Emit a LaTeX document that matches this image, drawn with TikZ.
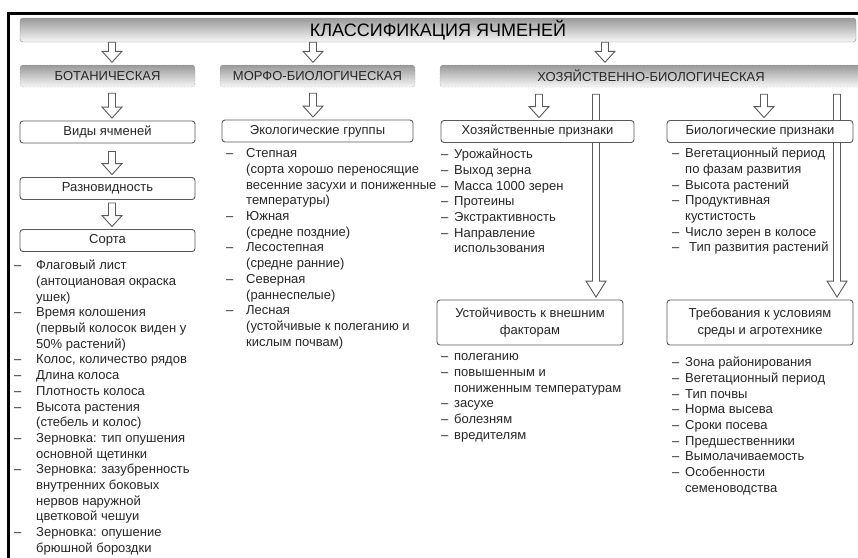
\documentclass[tikz,border=0pt]{standalone}
\usepackage{fontspec}
\setmainfont{Liberation Sans}
\usetikzlibrary{calc,backgrounds}

% hollow block arrow, drawn straight down at the x of the target
\newcommand{\harrow}[3][11pt]{%
  \draw[harr] let \p1=(#2), \p2=(#3) in
    (\x2-3.5pt,\y1) -- (\x2-3.5pt,\y2+2.5pt+#1) -- (\x2-10pt,\y2+2.5pt+#1)
    -- (\x2,\y2+2.5pt) -- (\x2+10pt,\y2+2.5pt+#1) -- (\x2+3.5pt,\y2+2.5pt+#1)
    -- (\x2+3.5pt,\y1) -- cycle;}
\newcommand{\itm}[2][13pt]{\rule{0pt}{12pt}\makebox[#1][l]{--}#2}
\newcommand{\cnt}[2][13pt]{\rule{0pt}{12pt}\hspace*{#1}#2}

\begin{document}
\begin{tikzpicture}[
  x=1pt, y=-1pt,
  font=\fontsize{13}{16.5}\selectfont, text=black!85,
  tbar/.style={draw=black!45, rounded corners=3pt, top color=black!40, bottom color=black!3,
    minimum height=24pt, inner sep=0pt, font=\fontsize{18}{20}\selectfont, text=black},
  bar/.style={draw=black!55, densely dotted, rounded corners=3pt, top color=black!40,
    bottom color=black!3, minimum height=22pt, inner sep=0pt},
  box/.style={draw=black!65, line width=0.9pt, rounded corners=3pt, fill=white,
    minimum height=22pt, inner sep=2pt, align=center},
  lst/.style={anchor=north west, inner sep=0pt, align=left,
    font=\fontsize{13}{15.7}\selectfont},
  harr/.style={draw=black!65, line width=0.9pt, fill=white}
]
\useasboundingbox (0,0) rectangle (858,557);
\draw[line width=3pt] (8.5,560) -- (8.5,13.5) -- (862,13.5);

\node[tbar, minimum width=836pt] (title) at (438,30) {КЛАССИФИКАЦИЯ ЯЧМЕНЕЙ};
\node[bar, minimum width=175pt] (bot) at (107.5,76) {БОТАНИЧЕСКАЯ};
\node[bar, minimum width=195pt] (morf) at (317.5,76) {МОРФО-БИОЛОГИЧЕСКАЯ};
\node[bar, minimum width=422pt] (hozbio) at (651,76) {ХОЗЯЙСТВЕННО-БИОЛОГИЧЕСКАЯ};

\node[box, minimum width=175pt] (vid) at (107.5,132) {Виды ячменей};
\node[box, minimum width=175pt] (raz) at (107.5,188.5) {Разновидность};
\node[box, minimum width=175pt] (sort) at (107.5,240.5) {Сорта};
\node[box, minimum width=191pt] (eco) at (317.5,131) {Экологические группы};
\node[box, minimum width=193pt] (hoz) at (537.5,131.5) {Хозяйственные признаки};
\node[box, minimum width=186pt] (bio) at (760,131.5) {Биологические признаки};
\node[box, minimum width=186pt, minimum height=45pt] (ust) at (530,322.5)
  {Устойчивость к внешним\\факторам};
\node[box, minimum width=186pt, minimum height=45pt] (treb) at (760,322.5)
  {Требования к условиям\\среды и агротехнике};

% lists
\node[lst] (sortlist) at (14,257.5) {%
  \itm[22pt]{Флаговый лист}\\
  \cnt[22pt]{(антоциановая окраска}\\
  \cnt[22pt]{ушек)}\\
  \itm[22pt]{Время колошения}\\
  \cnt[22pt]{(первый колосок виден у}\\
  \cnt[22pt]{50\% растений)}\\
  \itm[22pt]{Колос, количество рядов}\\
  \itm[22pt]{Длина колоса}\\
  \itm[22pt]{Плотность колоса}\\
  \itm[22pt]{Высота растения}\\
  \cnt[22pt]{(стебель и колос)}\\
  \itm[22pt]{Зерновка: тип опушения}\\
  \cnt[22pt]{основной щетинки}\\
  \itm[22pt]{Зерновка: зазубренность}\\
  \cnt[22pt]{внутренних боковых}\\
  \cnt[22pt]{нервов наружной}\\
  \cnt[22pt]{цветковой чешуи}\\
  \itm[22pt]{Зерновка: опушение}\\
  \cnt[22pt]{брюшной бороздки}};
\node[lst] (ecolist) at (226,145.5) {%
  \itm[20pt]{Степная}\\
  \cnt[20pt]{(сорта хорошо переносящие}\\
  \cnt[20pt]{весенние засухи и пониженные}\\
  \cnt[20pt]{температуры)}\\
  \itm[20pt]{Южная}\\
  \cnt[20pt]{(средне поздние)}\\
  \itm[20pt]{Лесостепная}\\
  \cnt[20pt]{(средне ранние)}\\
  \itm[20pt]{Северная}\\
  \cnt[20pt]{(раннеспелые)}\\
  \itm[20pt]{Лесная}\\
  \cnt[20pt]{(устойчивые к полеганию и}\\
  \cnt[20pt]{кислым почвам)}};
\node[lst] (hozlist) at (441,146.5) {%
  \itm{Урожайность}\\
  \itm{Выход зерна}\\
  \itm{Масса 1000 зерен}\\
  \itm{Протеины}\\
  \itm{Экстрактивность}\\
  \itm{Направление}\\
  \cnt{использования}};
\node[lst] (ustlist) at (441,348.5) {%
  \itm{полеганию}\\
  \itm{повышенным и}\\
  \cnt{пониженным температурам}\\
  \itm{засухе}\\
  \itm{болезням}\\
  \itm{вредителям}};
\node[lst] (biolist) at (672,145.5) {%
  \itm{Вегетационный период}\\
  \cnt{по фазам развития}\\
  \itm{Высота растений}\\
  \itm{Продуктивная}\\
  \cnt{кустистость}\\
  \itm{Число зерен в колосе}\\
  \itm{\hspace{4pt}Тип развития растений}};
\node[lst] (treblist) at (672,354.5) {%
  \itm{Зона районирования}\\
  \itm{Вегетационный период}\\
  \itm{Тип почвы}\\
  \itm{Норма высева}\\
  \itm{Сроки посева}\\
  \itm{Предшественники}\\
  \itm{Вымолачиваемость}\\
  \itm{Особенности}\\
  \cnt{семеноводства}};

% arrows
\harrow{title.south}{[xshift=4.5pt]bot.north}
\harrow{title.south}{[xshift=-4.5pt]morf.north}
\harrow{title.south}{[xshift=-46pt]hozbio.north}
\harrow{[yshift=-6pt]bot.south}{[xshift=4.5pt]vid.north}
\harrow{[yshift=-6pt]morf.south}{[xshift=-4.5pt]eco.north}
\harrow{[yshift=-8pt]vid.south}{[xshift=4.5pt]raz.north}
\harrow{[yshift=-3pt]raz.south}{[xshift=4.5pt]sort.north}
\harrow{[yshift=-7pt]hozbio.south}{[xshift=1.5pt]hoz.north}
\harrow{[yshift=-7pt]hozbio.south}{[xshift=4pt]bio.north}
\begin{scope}[on background layer]
\harrow[16pt]{[yshift=-7pt]hozbio.south}{[xshift=66pt]ust.north}
\harrow[16pt]{[yshift=-7pt]hozbio.south}{[xshift=77pt]treb.north}
\end{scope}
\end{tikzpicture}
\end{document}
